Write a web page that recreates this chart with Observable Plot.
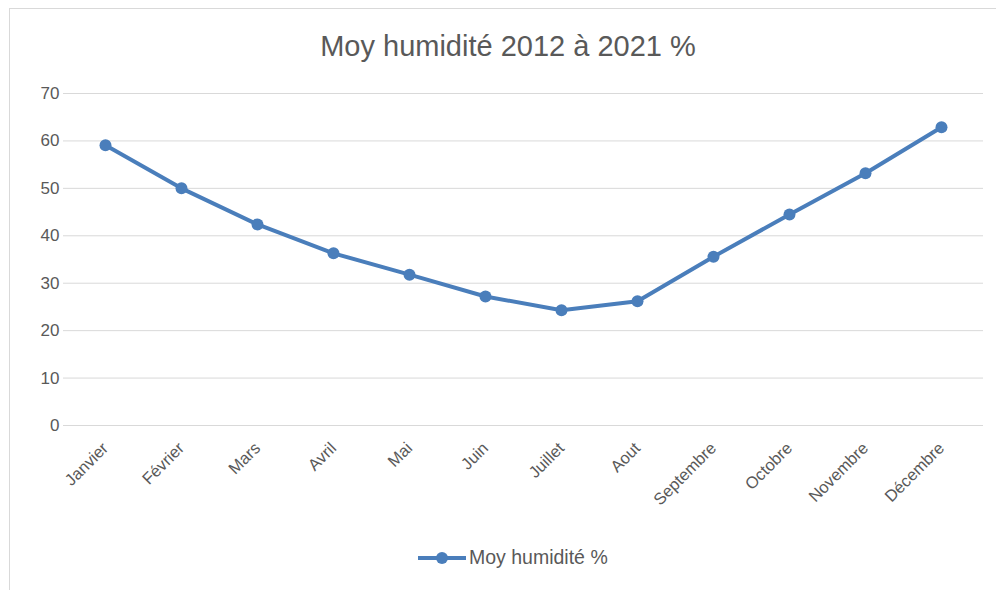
<!DOCTYPE html>
<html>
<head>
<meta charset="utf-8">
<script src="https://cdn.jsdelivr.net/npm/d3@7"></script>
<script src="https://cdn.jsdelivr.net/npm/@observablehq/plot@0.6"></script>
<style>
  html, body { margin: 0; padding: 0; background: #fff; }
  #wrap { position: relative; width: 996px; height: 590px; overflow: hidden; font-family: "Liberation Sans", Arial, sans-serif; }
  #frame { position: absolute; left: 9px; top: 8px; width: 990px; height: 600px; border: 1px solid #d9d9d9; box-sizing: border-box; }
  #title { position: absolute; left: 0; width: 1016px; top: 30px; text-align: center; font-size: 29px; color: #595959; }
  #chart { position: absolute; left: 0; top: 0; }
  #legend { position: absolute; left: 418px; top: 546px; display: flex; align-items: center; font-size: 19.5px; color: #595959; }
  #legend svg { margin-right: 3px; }
</style>
</head>
<body>
<div id="wrap">
  <div id="frame"></div>
  <div id="chart"></div>
  <div id="title">Moy humidité 2012 à 2021 %</div>
  <div id="legend"></div>
</div>
<script>
const months = ["Janvier", "Février", "Mars", "Avril", "Mai", "Juin", "Juillet", "Aout", "Septembre", "Octobre", "Novembre", "Décembre"];
const humidity = [59.1, 50.0, 42.4, 36.3, 31.8, 27.2, 24.3, 26.2, 35.6, 44.5, 53.2, 62.9];
const yTicks = [0, 10, 20, 30, 40, 50, 60, 70];
const seriesName = "Moy humidité %";
const lineColor = "#4A7EBB";

const data = months.map((m, i) => ({ month: m, value: humidity[i] }));

const chart = Plot.plot({
  width: 996,
  height: 590,
  marginTop: 93,
  marginBottom: 165,
  marginLeft: 63,
  marginRight: 13,
  style: { fontFamily: "Liberation Sans, Arial, sans-serif", color: "#595959", background: "transparent" },
  x: { type: "point", domain: months, padding: 0.5, label: null },
  y: { domain: [0, 70], label: null },
  marks: [
    Plot.ruleY(yTicks, { stroke: "#d9d9d9", strokeWidth: 1 }),
    Plot.axisY({ ticks: yTicks, tickSize: 0, tickPadding: 4, label: null, fill: "#595959", fontSize: 17 }),
    Plot.axisX({ tickSize: 0, tickRotate: -45, tickPadding: 20, label: null, fill: "#595959", fontSize: 16.5 }),
    Plot.line(data, { x: "month", y: "value", stroke: lineColor, strokeWidth: 4, curve: "linear" }),
    Plot.dot(data, { x: "month", y: "value", fill: lineColor, r: 6 })
  ]
});
document.getElementById("chart").appendChild(chart);

const leg = document.getElementById("legend");
const ns = "http://www.w3.org/2000/svg";
const ls = document.createElementNS(ns, "svg");
ls.setAttribute("width", 48); ls.setAttribute("height", 20);
const ln = document.createElementNS(ns, "line");
ln.setAttribute("x1", 0); ln.setAttribute("x2", 48); ln.setAttribute("y1", 10); ln.setAttribute("y2", 10);
ln.setAttribute("stroke", lineColor); ln.setAttribute("stroke-width", 4);
const c = document.createElementNS(ns, "circle");
c.setAttribute("cx", 24); c.setAttribute("cy", 10); c.setAttribute("r", 6); c.setAttribute("fill", lineColor);
ls.appendChild(ln); ls.appendChild(c);
leg.appendChild(ls);
const t = document.createElement("span");
t.textContent = seriesName;
leg.appendChild(t);
</script>
</body>
</html>
